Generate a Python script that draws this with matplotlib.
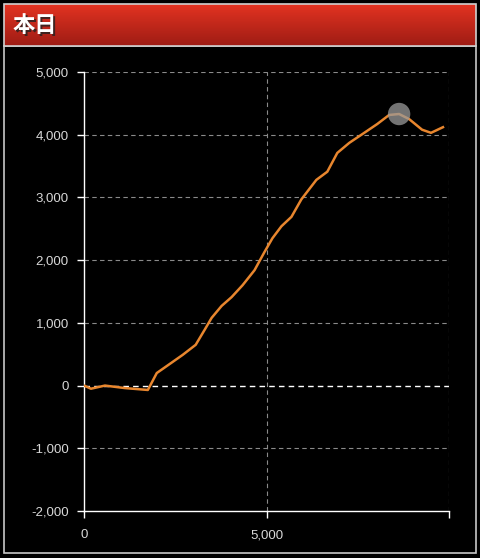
import numpy as np
import matplotlib
matplotlib.use('Agg')
import matplotlib.pyplot as plt
from matplotlib.patches import Rectangle
from matplotlib.ticker import FuncFormatter

# data
games = [0, 191, 574, 1120, 1749, 1994, 2350, 2705, 3060, 3306, 3497, 3770,
         4043, 4344, 4672, 4945, 5163, 5409, 5683, 5956, 6366, 6666, 6940,
         7268, 7678, 8033, 8360, 8633, 8906, 9262, 9507, 9835]
diff = [0, -50, 0, -40, -70, 200, 345, 490, 650, 890, 1080, 1270,
        1410, 1600, 1840, 2130, 2350, 2540, 2690, 2970, 3280, 3410, 3710,
        3870, 4030, 4170, 4315, 4330, 4250, 4080, 4030, 4120]
marker_idx = 27
title = '本日'
yticks = [-2000, -1000, 0, 1000, 2000, 3000, 4000, 5000]
xticks = [0, 5000, 10000]
xlabels = ['0', '5,000', '']

W, H = 480, 558
fig = plt.figure(figsize=(W / 100, H / 100), dpi=100, facecolor='black')

# background frame + header (figure pixel coords)
bg = fig.add_axes([0, 0, 1, 1])
bg.set_xlim(0, W)
bg.set_ylim(H, 0)
bg.axis('off')
bg.add_patch(Rectangle((3.5, 46), 472, 507, facecolor='black',
                       edgecolor='#c8c8c8', linewidth=1.2))
grad = np.linspace(0, 1, 64).reshape(-1, 1)
top_c = np.array([0.89, 0.20, 0.13])
bot_c = np.array([0.62, 0.11, 0.08])
img = top_c + (bot_c - top_c) * grad[..., None]
bg.imshow(img, extent=[3.5, 475.5, 46, 4], aspect='auto', zorder=1)
bg.add_patch(Rectangle((3.5, 4), 472, 42, facecolor='none',
                       edgecolor='#d0d0d0', linewidth=1.2, zorder=2))
fam = ['Noto Sans CJK JP', 'DejaVu Sans']
bg.text(14.5, 27, title, color='#222222', fontsize=16, fontweight='bold',
        family=fam, va='center', zorder=3, alpha=0.8)
bg.text(13, 25.5, title, color='white', fontsize=16, fontweight='bold',
        family=fam, va='center', zorder=4)

# chart
ax = fig.add_axes([84 / W, 1 - 511 / H, (449 - 84) / W, (511 - 72) / H])
ax.set_facecolor('black')
ax.set_xlim(0, 10000)
ax.set_ylim(-2000, 5000)
ax.set_yticks(yticks)
ax.set_xticks(xticks)
ax.set_xticklabels(xlabels)
ax.yaxis.set_major_formatter(FuncFormatter(lambda v, p: f'{int(v):,}'))

for y in yticks:
    if y == 0:
        ax.axhline(y, color='white', lw=1, ls=(0, (4, 3)), zorder=1)
    elif y != -2000:
        ax.axhline(y, color='#8a8a8a', lw=0.8, ls=(0, (4, 3)), zorder=1)
for x in xticks[1:]:
    ax.axvline(x, color='#8a8a8a', lw=0.8, ls=(0, (4, 3)), zorder=1)

ax.plot(games, diff, color='#e8862e', lw=1.8, zorder=3, solid_joinstyle='round')
ax.scatter([games[marker_idx]], [diff[marker_idx]], s=260, color='#9a9a9a',
           alpha=0.75, zorder=4, edgecolors='none')

for s in ['top', 'right']:
    ax.spines[s].set_visible(False)
for s in ['left', 'bottom']:
    ax.spines[s].set_color('white')
    ax.spines[s].set_linewidth(1)

ax.tick_params(colors='white', length=5, width=1, direction='out')
ax.tick_params(axis='y', pad=6)
ax.tick_params(axis='x', pad=8)
for lab in ax.get_xticklabels() + ax.get_yticklabels():
    lab.set_color('#d8d8d8')
    lab.set_fontsize(9.5)
    lab.set_family(['Liberation Sans', 'DejaVu Sans'])

fig.savefig('out.png', dpi=100, facecolor='black')
